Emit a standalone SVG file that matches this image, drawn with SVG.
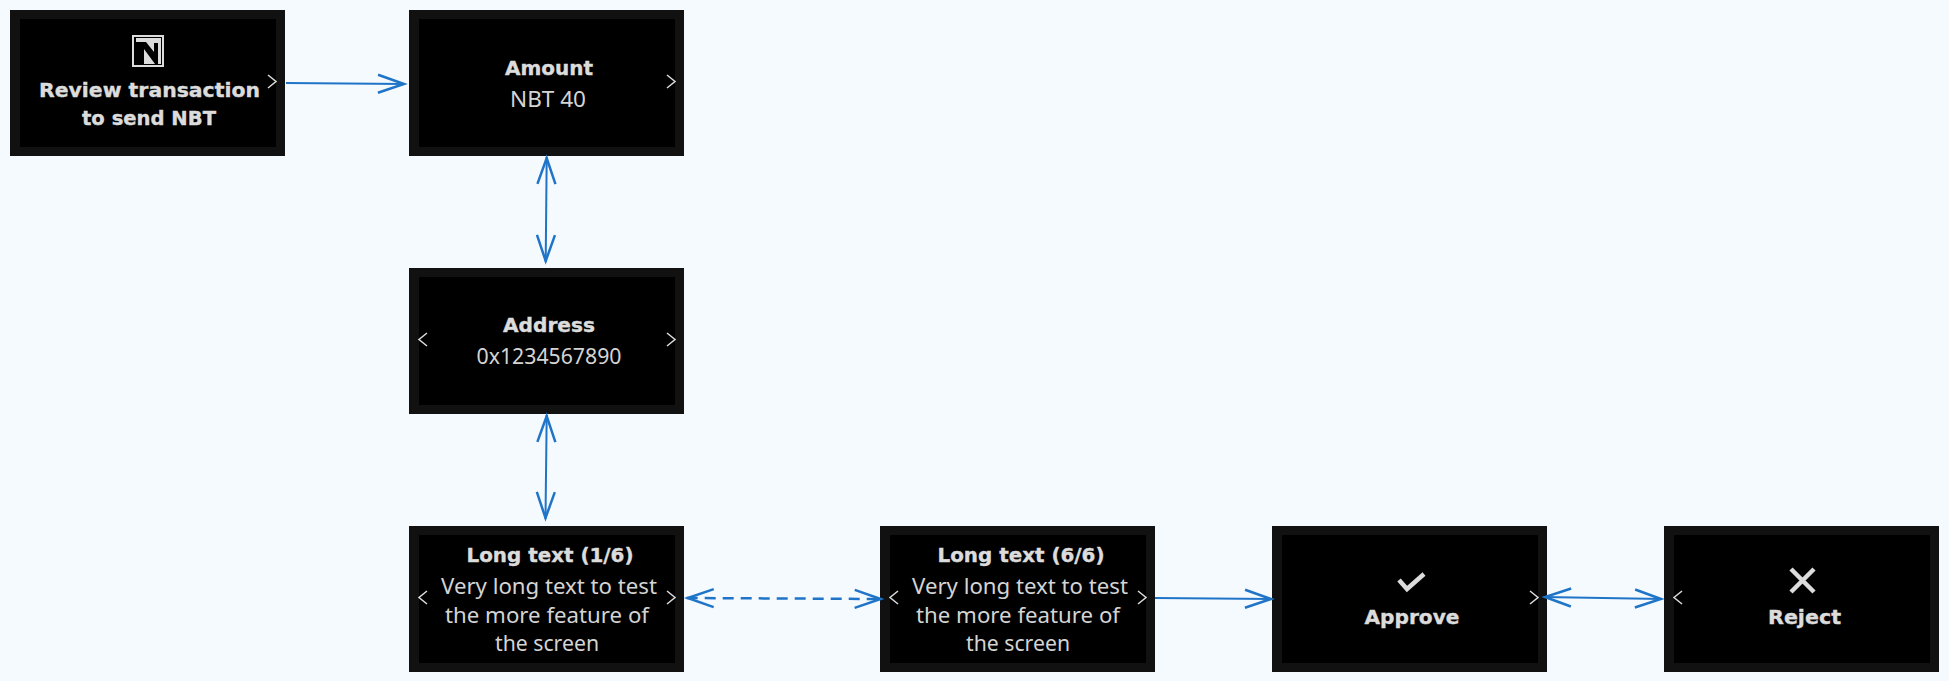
<svg xmlns="http://www.w3.org/2000/svg" width="1949" height="681" viewBox="0 0 1949 681">
<style>
.frame{fill:#111}.screen{fill:#000}
text{font-family:"DejaVu Sans","Liberation Sans",sans-serif;fill:#dcdcdc;text-anchor:middle}
.t{font-weight:700;font-size:20px;stroke:#dcdcdc;stroke-width:.4}
.b{font-size:21px;font-family:"Noto Sans","DejaVu Sans",sans-serif;fill:#d4d4d4}
.c{fill:none;stroke:#dcdcdc;stroke-width:1.5}
.ic{fill:none;stroke:#dcdcdc;stroke-width:4.500}
.l{fill:none;stroke:#1f74c8;stroke-width:2;marker-end:url(#h);marker-start:url(#h)}
.o{marker-start:none}
.d{stroke-width:2.500;stroke-dasharray:11 7}
</style>
<defs>
<marker id="h" markerUnits="userSpaceOnUse" markerWidth="34" markerHeight="24" refX="30" refY="12" orient="auto-start-reverse"><path d="M3 3L29 12L3 21" fill="none" stroke="#1f74c8" stroke-width="2.500"/></marker>
<g id="fr"><rect class="frame" width="275" height="146"/><rect class="screen" x="10" y="9" width="256" height="128"/></g>
<path id="r" class="c" d="M0 0L8 6.500L0 13"/>
<path id="lf" class="c" d="M8 0L0 6.500L8 13"/>
</defs>
<rect width="1949" height="681" fill="#f5faff"/>
<g id="node-review"><use href="#fr" x="10" y="10"/>
<rect x="133" y="36" width="30" height="30" fill="#000" stroke="#dcdcdc" stroke-width="2"/>
<path d="M136 38H160V43H154V52L146 42H136Z" fill="#dcdcdc"/><path d="M144 49L155 64H144Z" fill="#dcdcdc"/><path d="M158 38H161V64H158Z" fill="#dcdcdc"/>
<text class="t" x="149.500" y="97" textLength="221" lengthAdjust="spacingAndGlyphs">Review transaction</text>
<text class="t" x="149" y="125" textLength="134" lengthAdjust="spacingAndGlyphs">to send NBT</text>
<use href="#r" x="268" y="75"/></g>
<g id="node-amount"><use href="#fr" x="409" y="10"/>
<text class="t" x="549" y="75" textLength="88" lengthAdjust="spacingAndGlyphs">Amount</text>
<text class="b" x="548" y="107" textLength="76" lengthAdjust="spacingAndGlyphs">NBT 40</text>
<use href="#r" x="667" y="75"/></g>
<g id="node-address"><use href="#fr" x="409" y="268"/>
<text class="t" x="549" y="332" textLength="92" lengthAdjust="spacingAndGlyphs">Address</text>
<text class="b" x="549" y="364" textLength="145" lengthAdjust="spacingAndGlyphs">0x1234567890</text>
<use href="#lf" x="419" y="333"/><use href="#r" x="667" y="333"/></g>
<g id="node-long-1"><use href="#fr" x="409" y="526"/>
<text class="t" x="550" y="562" textLength="167" lengthAdjust="spacingAndGlyphs">Long text (1/6)</text>
<text class="b" x="549" y="594" textLength="216" lengthAdjust="spacingAndGlyphs">Very long text to test</text>
<text class="b" x="547" y="623" textLength="204" lengthAdjust="spacingAndGlyphs">the more feature of</text>
<text class="b" x="547" y="651" textLength="104" lengthAdjust="spacingAndGlyphs">the screen</text>
<use href="#lf" x="419" y="591"/><use href="#r" x="667" y="591"/></g>
<g id="node-long-6"><use href="#fr" x="880" y="526"/>
<text class="t" x="1021" y="562" textLength="167" lengthAdjust="spacingAndGlyphs">Long text (6/6)</text>
<text class="b" x="1020" y="594" textLength="216" lengthAdjust="spacingAndGlyphs">Very long text to test</text>
<text class="b" x="1018" y="623" textLength="204" lengthAdjust="spacingAndGlyphs">the more feature of</text>
<text class="b" x="1018" y="651" textLength="104" lengthAdjust="spacingAndGlyphs">the screen</text>
<use href="#lf" x="890" y="591"/><use href="#r" x="1138" y="591"/></g>
<g id="node-approve"><use href="#fr" x="1272" y="526"/>
<path class="ic" d="M1399 580L1407 589L1424 574"/>
<text class="t" x="1412" y="624" textLength="95" lengthAdjust="spacingAndGlyphs">Approve</text>
<use href="#r" x="1530" y="591"/></g>
<g id="node-reject"><use href="#fr" x="1664" y="526"/>
<path class="ic" d="M1791 569L1814 592M1814 569L1791 592"/>
<text class="t" x="1804.500" y="624" textLength="73" lengthAdjust="spacingAndGlyphs">Reject</text>
<use href="#lf" x="1674" y="591"/></g>
<g id="connectors">
<path class="l o" d="M286 83L405 84"/>
<path class="l" d="M546.700 157L545.700 262"/>
<path class="l" d="M546.700 415L545.500 519"/>
<path class="l d" d="M686.700 598L881.700 599"/>
<path class="l o" d="M1155 598L1272 599"/>
<path class="l" d="M1544 597L1662 599"/>
</g>
</svg>
